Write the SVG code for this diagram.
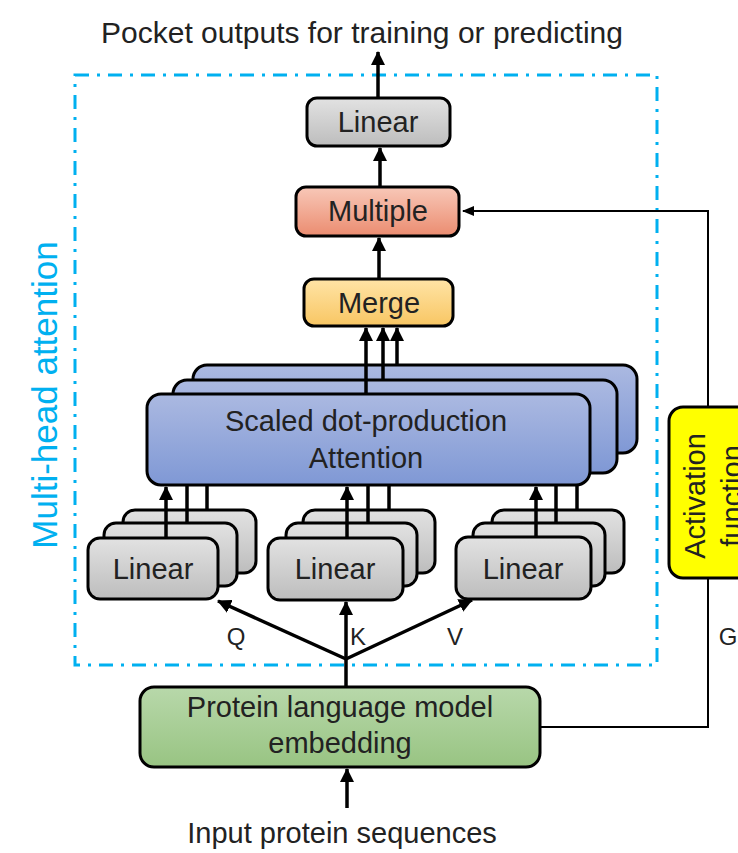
<svg xmlns="http://www.w3.org/2000/svg" width="738" height="853" viewBox="0 0 738 853">
<defs>
<linearGradient id="gGray" x1="0" y1="0" x2="0" y2="1"><stop offset="0" stop-color="#E2E2E2"/><stop offset="1" stop-color="#BDBDBD"/></linearGradient>
<linearGradient id="gBlue" x1="0" y1="0" x2="0" y2="1"><stop offset="0" stop-color="#ABB9E1"/><stop offset="1" stop-color="#7F98D5"/></linearGradient>
<linearGradient id="gMerge" x1="0" y1="0" x2="0" y2="1"><stop offset="0" stop-color="#FFE4A6"/><stop offset="1" stop-color="#F8C663"/></linearGradient>
<linearGradient id="gMult" x1="0" y1="0" x2="0" y2="1"><stop offset="0" stop-color="#F8C8B8"/><stop offset="1" stop-color="#EB8C70"/></linearGradient>
<linearGradient id="gGreen" x1="0" y1="0" x2="0" y2="1"><stop offset="0" stop-color="#B8D8AA"/><stop offset="1" stop-color="#98C482"/></linearGradient>
<marker id="ah" markerUnits="userSpaceOnUse" markerWidth="14" markerHeight="14" viewBox="0 0 14 14" refX="13" refY="7" orient="auto"><path d="M0,0 L14,7 L0,14 Z" fill="#000"/></marker>
<marker id="ahs" markerUnits="userSpaceOnUse" markerWidth="12" markerHeight="12" viewBox="0 0 12 12" refX="11" refY="6" orient="auto"><path d="M0,1 L12,6 L0,11 Z" fill="#000"/></marker>
</defs>
<style>
.box{stroke:#000;stroke-width:3}
.t{font-family:"Liberation Sans",Arial,sans-serif;fill:#222;text-anchor:middle;font-size:29px}
.lbl{font-size:24px}
.c{fill:none;stroke:#000;stroke-width:3.5}
.a{fill:none;stroke:#000;stroke-width:3.5;marker-end:url(#ah)}
.thin{fill:none;stroke:#000;stroke-width:2}
</style>
<rect width="738" height="853" fill="#fff"/>

<g id="frame">
<rect x="75" y="75" width="582" height="590" fill="none" stroke="#00B0F0" stroke-width="3" stroke-dasharray="14,8,3,8"/>
<text class="t" x="0" y="0" transform="translate(57,395) rotate(-90)" style="fill:#00B0F0;font-size:35px">Multi-head attention</text>
</g>

<text id="top-label" class="t" x="362" y="43" style="font-size:30px">Pocket outputs for training or predicting</text>
<text id="bottom-label" class="t" x="342" y="843" style="font-size:29px">Input protein sequences</text>

<g id="linear-top">
<rect class="box" x="307" y="98" width="143" height="48" rx="10" fill="url(#gGray)"/>
<text class="t" x="378" y="132">Linear</text>
</g>

<g id="multiple">
<rect class="box" x="296" y="187" width="163" height="49" rx="10" fill="url(#gMult)"/>
<text class="t" x="378" y="221">Multiple</text>
</g>

<g id="merge">
<rect class="box" x="304" y="279" width="149" height="47" rx="10" fill="url(#gMerge)"/>
<text class="t" x="379" y="313">Merge</text>
</g>

<g id="attention">
<rect class="box" x="193" y="365" width="444" height="88" rx="14" fill="url(#gBlue)"/>
<rect class="box" x="173" y="380" width="444" height="93" rx="14" fill="url(#gBlue)"/>
<rect class="box" x="147" y="394" width="443" height="91" rx="14" fill="url(#gBlue)"/>
<text class="t" x="366" y="431">Scaled dot-production</text>
<text class="t" x="366" y="468">Attention</text>
</g>

<g id="linear-q">
<rect class="box" x="123" y="510" width="133" height="63" rx="12" fill="url(#gGray)"/>
<rect class="box" x="104" y="523" width="133" height="63" rx="12" fill="url(#gGray)"/>
<rect class="box" x="88" y="538" width="130" height="61" rx="12" fill="url(#gGray)"/>
<text class="t" x="153" y="579">Linear</text>
</g>

<g id="linear-k">
<rect class="box" x="303" y="510" width="132" height="63" rx="12" fill="url(#gGray)"/>
<rect class="box" x="286" y="523" width="131" height="63" rx="12" fill="url(#gGray)"/>
<rect class="box" x="268" y="538" width="135" height="62" rx="12" fill="url(#gGray)"/>
<text class="t" x="335" y="579">Linear</text>
</g>

<g id="linear-v">
<rect class="box" x="492" y="510" width="132" height="63" rx="12" fill="url(#gGray)"/>
<rect class="box" x="473" y="523" width="132" height="63" rx="12" fill="url(#gGray)"/>
<rect class="box" x="456" y="537" width="135" height="62" rx="12" fill="url(#gGray)"/>
<text class="t" x="523" y="579">Linear</text>
</g>

<g id="embedding">
<rect class="box" x="140" y="687" width="400" height="80" rx="14" fill="url(#gGreen)"/>
<text class="t" x="340" y="717">Protein language model</text>
<text class="t" x="340" y="753">embedding</text>
</g>

<g id="activation">
<rect class="box" x="669" y="407" width="110" height="171" rx="14" fill="#FFFF00"/>
<text class="t" x="0" y="0" transform="translate(705,496) rotate(-90)">Activation</text>
<text class="t" x="0" y="0" transform="translate(742,496) rotate(-90)">function</text>
</g>

<g id="connectors">
<line class="a" x1="378" y1="98" x2="378" y2="52"/>
<line class="a" x1="380" y1="187" x2="380" y2="148"/>
<line class="a" x1="379" y1="279" x2="379" y2="238"/>
<line class="a" x1="366" y1="394" x2="366" y2="328"/>
<line class="a" x1="383" y1="380" x2="383" y2="328"/>
<line class="a" x1="397" y1="365" x2="397" y2="328"/>
<line class="a" x1="166" y1="538" x2="166" y2="487"/>
<line class="c" x1="187" y1="523" x2="187" y2="486"/>
<line class="c" x1="207" y1="510" x2="207" y2="486"/>
<line class="a" x1="347" y1="538" x2="347" y2="487"/>
<line class="c" x1="368" y1="523" x2="368" y2="486"/>
<line class="c" x1="389" y1="510" x2="389" y2="486"/>
<line class="a" x1="536" y1="537" x2="536" y2="487"/>
<line class="c" x1="556" y1="523" x2="556" y2="486"/>
<line class="c" x1="577" y1="510" x2="577" y2="486"/>
<line class="c" x1="346" y1="687" x2="346" y2="659"/>
<line class="a" x1="346" y1="659" x2="218" y2="601"/>
<line class="a" x1="346" y1="659" x2="346" y2="602"/>
<line class="a" x1="346" y1="659" x2="472" y2="600"/>
<line class="a" x1="347" y1="808" x2="347" y2="769"/>
<polyline class="thin" points="708,407 708,211 463,211" marker-end="url(#ahs)"/>
<polyline class="thin" points="708,578 708,727 541,727"/>
<text class="t lbl" x="236" y="645">Q</text>
<text class="t lbl" x="358" y="645">K</text>
<text class="t lbl" x="455" y="645">V</text>
<text class="t lbl" x="728" y="645">G</text>
</g>
</svg>
